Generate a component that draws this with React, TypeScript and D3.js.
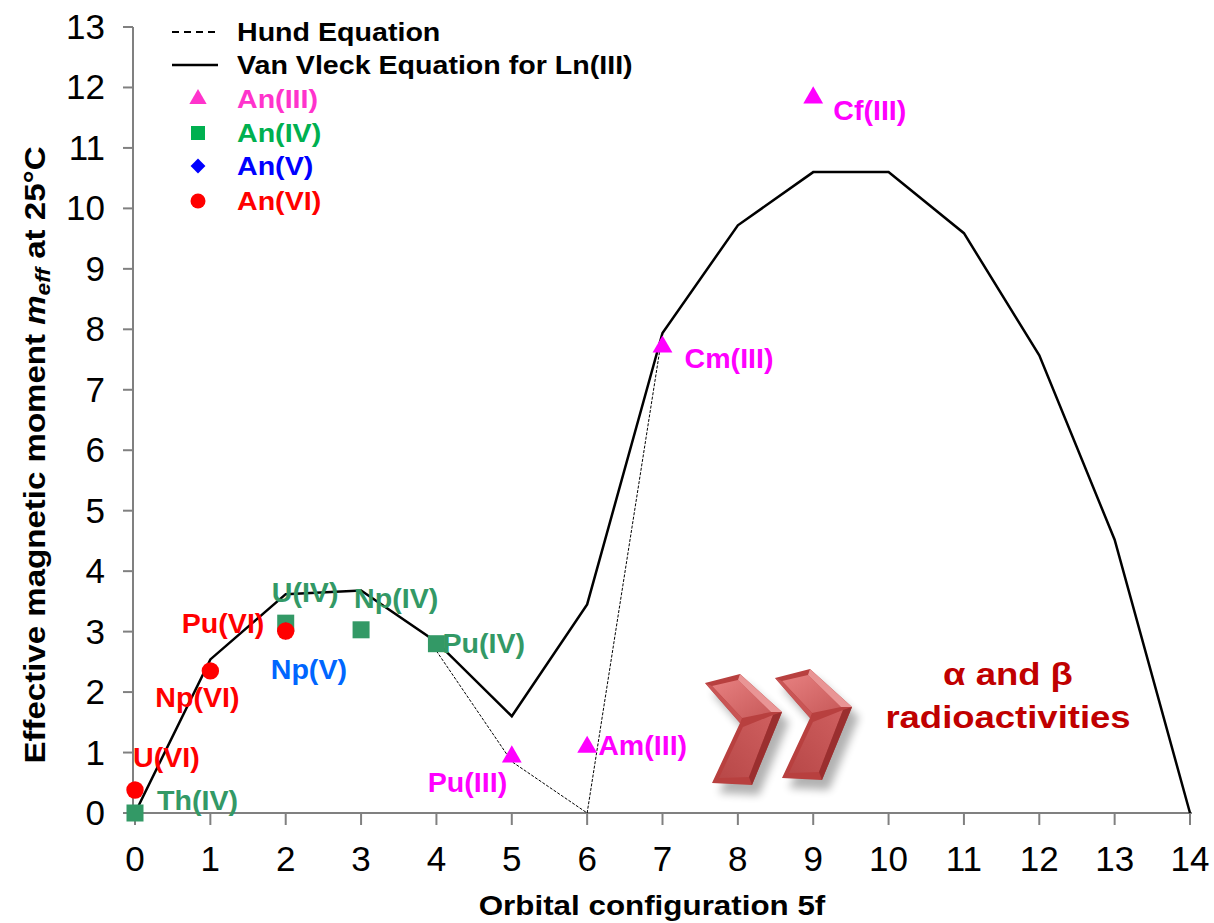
import React from "react";
import * as d3 from "d3";

// Van Vleck curve for Ln(III), f0..f14
const orbitals = [0, 1, 2, 3, 4, 5, 6, 7, 8, 9, 10, 11, 12, 13, 14];
const vanVleck = [0, 2.54, 3.62, 3.68, 2.83, 1.6, 3.45, 7.94, 9.72, 10.6, 10.6, 9.59, 7.57, 4.52, 0];

// Hund equation (only the part that departs from Van Vleck is visible)
const hundOrbitals = [4, 5, 6, 7];
const hundValues = [2.68, 0.85, 0, 7.94];

// measured actinides
const an3Names = ["Pu(III)", "Am(III)", "Cm(III)", "Cf(III)"];
const an3Orbitals = [5, 6, 7, 9];
const an3Values = [0.93, 1.09, 7.71, 11.83];

const an4Names = ["Th(IV)", "U(IV)", "Np(IV)", "Pu(IV)"];
const an4Orbitals = [0, 2, 3, 4];
const an4Values = [0, 3.14, 3.03, 2.8];

const an5Names = ["Np(V)"];
const an5Orbitals = [2];
const an5Values = [3.01];

const an6Names = ["U(VI)", "Np(VI)", "Pu(VI)"];
const an6Orbitals = [0, 1, 2];
const an6Values = [0.38, 2.35, 3.01];

const xTicks = d3.range(0, 15);
const yTicks = d3.range(0, 14);

const FONT = "'Liberation Sans', Arial, sans-serif";

// label placement relative to the marker (pixels)
const labelOffsets: Record<string, [number, number]> = {
  "Th(IV)": [22, -3],
  "U(VI)": [-2, -23],
  "Np(VI)": [-55, 36],
  "Pu(VI)": [-104, 2],
  "U(IV)": [-14, -21],
  "Np(V)": [-15, 48],
  "Np(IV)": [-7, -22],
  "Pu(IV)": [6, 9],
  "Pu(III)": [-84, 35],
  "Am(III)": [11, 8],
  "Cm(III)": [22, 21],
  "Cf(III)": [20, 22],
};

const T = ({ x, y, fs, sx = 1, fill = "#000", anchor = "start", weight = "bold", rotate = 0, children }: any) => (
  <g transform={`translate(${x},${y}) rotate(${rotate}) scale(${sx},1)`}>
    <text fontSize={fs} fill={fill} textAnchor={anchor} fontWeight={weight} fontFamily={FONT}>
      {children}
    </text>
  </g>
);

const Chevron = ({ x, y }: { x: number; y: number }) => (
  <g transform={`translate(${x},${y})`}>
    <polygon
      points="0,10 35,1 77,39 47,112 7,110 35,50"
      fill="#000"
      opacity={0.3}
      transform="translate(7,10)"
      filter="url(#blur)"
    />
    <polygon points="0,10 35,1 77,39 47,112 7,110 35,50" fill="#b8403f" />
    <polygon points="7,13 33,7 66,39 37,45" fill="url(#topFace)" />
    <polygon points="38,54 68,42 44,104 14,105" fill="url(#botFace)" />
    <polygon points="35,1 77,39 66,39 33,7" fill="#e99595" />
    <polygon points="77,39 47,112 44,104 68,42" fill="#9a2f2f" />
    <polygon points="0,10 7,13 37,45 35,50" fill="#c95555" />
  </g>
);

export default function App() {
  const x = d3.scaleLinear().domain([0, 14]).range([135, 1190]);
  const y = d3.scaleLinear().domain([0, 13]).range([813, 27]);

  const vvLine = d3.line<number>().x((_, i) => x(orbitals[i])).y((d) => y(d))(vanVleck) || "";
  const hundLine = d3.line<number>().x((_, i) => x(hundOrbitals[i])).y((d) => y(d))(hundValues) || "";

  const tri = d3.symbol().type(d3.symbolTriangle).size(170)() || "";
  const triLeg = d3.symbol().type(d3.symbolTriangle).size(130)() || "";
  const dia = d3.symbol().type(d3.symbolSquare).size(150)() || "";
  const diaLeg = d3.symbol().type(d3.symbolSquare).size(110)() || "";

  const green = "#339966";
  const magenta = "#FF00FF";
  const red = "#FF0000";
  const npBlue = "#0066FF";

  const label = (name: string, ox: number, oy: number, fill: string) => {
    const [dx, dy] = labelOffsets[name];
    return (
      <T key={"l" + name} x={x(ox) + dx} y={y(oy) + dy} fs={27} sx={1.06} fill={fill}>
        {name}
      </T>
    );
  };

  return (
    <svg width={1214} height={923} style={{ position: "absolute", left: 0, top: 0, background: "#fff" }}>
      <defs>
        <filter id="blur" x="-30%" y="-30%" width="160%" height="160%">
          <feGaussianBlur stdDeviation="4" />
        </filter>
        <linearGradient id="topFace" x1="0" y1="0" x2="1" y2="1">
          <stop offset="0" stopColor="#e78080" />
          <stop offset="1" stopColor="#c85a5a" />
        </linearGradient>
        <linearGradient id="botFace" x1="1" y1="0" x2="0" y2="1">
          <stop offset="0" stopColor="#cf5f5f" />
          <stop offset="1" stopColor="#b84848" />
        </linearGradient>
      </defs>

      {/* axes */}
      <line x1={133} x2={133} y1={27} y2={813} stroke="#808080" strokeWidth={2} />
      <line x1={133} x2={1192} y1={813} y2={813} stroke="#808080" strokeWidth={2} />
      {yTicks.map((t) => (
        <g key={"y" + t}>
          <line x1={123} x2={133} y1={y(t)} y2={y(t)} stroke="#808080" strokeWidth={2} />
          <T x={105} y={y(t) + 12} fs={35} anchor="end" weight="normal">
            {t}
          </T>
        </g>
      ))}
      {xTicks.map((t) => (
        <g key={"x" + t}>
          <line x1={x(t)} x2={x(t)} y1={813} y2={825} stroke="#808080" strokeWidth={2} />
          <T x={x(t)} y={871} fs={35} anchor="middle" weight="normal">
            {t}
          </T>
        </g>
      ))}

      {/* axis titles */}
      <g transform="translate(45,455) rotate(-90) scale(1.14,1)">
        <text fontSize={29} fontWeight="bold" fontFamily={FONT} textAnchor="middle">
          Effective magnetic moment <tspan fontStyle="italic">m</tspan>
          <tspan fontStyle="italic" fontSize={20} dy={5}>eff</tspan>
          <tspan dy={-5}> at 25°C</tspan>
        </text>
      </g>
      <T x={652} y={915} fs={28} sx={1.12} anchor="middle">
        Orbital configuration 5f
      </T>

      {/* curves */}
      <path d={vvLine} fill="none" stroke="#000" strokeWidth={2.5} strokeLinejoin="miter" />
      <path d={hundLine} fill="none" stroke="#000" strokeWidth={1} strokeDasharray="3,1.5" />

      {/* markers */}
      {an4Values.map((v, i) => (
        <rect key={"s" + i} x={x(an4Orbitals[i]) - 8.5} y={y(v) - 8.5} width={17} height={17} fill={green} />
      ))}
      {an5Values.map((v, i) => (
        <path key={"d" + i} d={dia} transform={`translate(${x(an5Orbitals[i])},${y(v)}) rotate(45)`} fill="#0000FF" />
      ))}
      {an6Values.map((v, i) => (
        <circle key={"c" + i} cx={x(an6Orbitals[i])} cy={y(v)} r={8.7} fill={red} />
      ))}
      {an3Values.map((v, i) => (
        <path key={"t" + i} d={tri} transform={`translate(${x(an3Orbitals[i])},${y(v)})`} fill={magenta} />
      ))}

      {/* data labels */}
      {an4Names.map((n, i) => label(n, an4Orbitals[i], an4Values[i], green))}
      {an5Names.map((n, i) => label(n, an5Orbitals[i], an5Values[i], npBlue))}
      {an6Names.map((n, i) => label(n, an6Orbitals[i], an6Values[i], red))}
      {an3Names.map((n, i) => label(n, an3Orbitals[i], an3Values[i], magenta))}

      {/* legend */}
      <line x1={172} x2={218} y1={32} y2={32} stroke="#000" strokeWidth={2} strokeDasharray="7,5" />
      <T x={237} y={41} fs={26} sx={1.1}>Hund Equation</T>
      <line x1={172} x2={218} y1={65} y2={65} stroke="#000" strokeWidth={2.5} />
      <T x={237} y={74} fs={26} sx={1.1}>Van Vleck Equation for Ln(III)</T>
      <path d={triLeg} transform="translate(198,99)" fill="#FF33CC" />
      <T x={237} y={108} fs={26} sx={1.1} fill="#FF33CC">An(III)</T>
      <rect x={191} y={126} width={14} height={14} fill="#00B050" />
      <T x={237} y={142} fs={26} sx={1.1} fill="#00B050">An(IV)</T>
      <path d={diaLeg} transform="translate(198,166) rotate(45)" fill="#0000FF" />
      <T x={237} y={175} fs={26} sx={1.1} fill="#0000FF">An(V)</T>
      <circle cx={198} cy={201} r={7.5} fill={red} />
      <T x={237} y={210} fs={26} sx={1.1} fill={red}>An(VI)</T>

      {/* decay annotation */}
      <Chevron x={705} y={673} />
      <Chevron x={775} y={668} />
      <T x={1008} y={685} fs={32} sx={1.14} anchor="middle" fill="#C00000">α and β</T>
      <T x={1008} y={728} fs={32} sx={1.14} anchor="middle" fill="#C00000">radioactivities</T>
    </svg>
  );
}
